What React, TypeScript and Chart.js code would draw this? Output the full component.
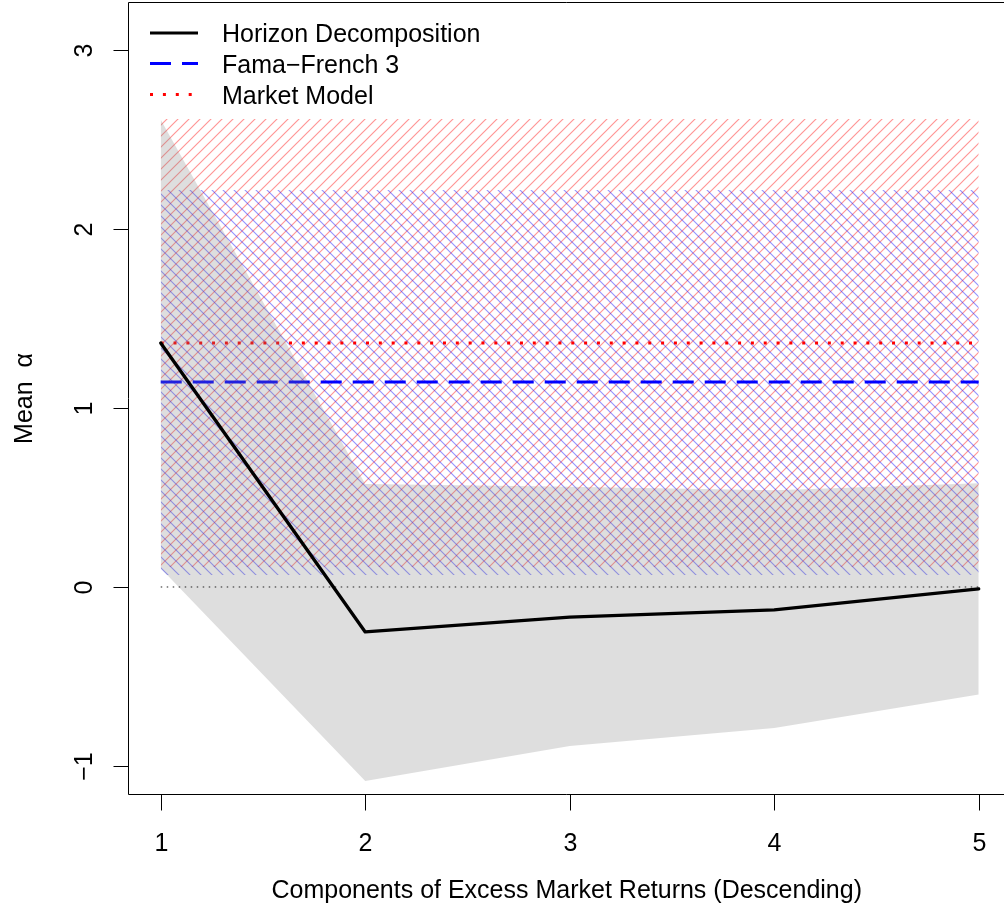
import React, { useEffect, useRef } from "react";
import { Chart, registerables } from "chart.js";

Chart.register(...registerables);

// ---------- data ----------
const components = [1, 2, 3, 4, 5];
const horizonAlpha = [1.363, -0.251, -0.168, -0.128, -0.011];
const horizonUpper = [2.61, 0.575, 0.56, 0.54, 0.58];
const horizonLower = [0.105, -1.084, -0.888, -0.788, -0.6];
const ff3Alpha = 1.145;
const ff3Band = [0.067, 2.218];
const mmAlpha = 1.363;
const mmBand = [0.112, 2.615];
const zeroRef = 0;

const xTicks = [1, 2, 3, 4, 5];
const xTickLabels = ["1", "2", "3", "4", "5"];
const yTicks = [-1, 0, 1, 2, 3];
const yTickLabels = ["\u22121", "0", "1", "2", "3"];
const legendLabels = ["Horizon Decomposition", "Fama\u2212French 3", "Market Model"];
const xTitle = "Components of Excess Market Returns (Descending)";
const yTitle = "Mean  \u03b1";

const X_MIN = 0.84;
const X_MAX = 5.1236;
const Y_MIN = -1.162;
const Y_MAX = 3.268;

const FONT = '25px "Liberation Sans", Arial, Helvetica, sans-serif';

function makeHatch(color: string, dir: "/" | "\\"): CanvasPattern | string {
  const s = 11;
  const c = document.createElement("canvas");
  c.width = s;
  c.height = s;
  const g = c.getContext("2d");
  if (!g) return color;
  g.strokeStyle = color;
  g.lineWidth = 1.15;
  g.beginPath();
  if (dir === "/") {
    for (let k = 0; k <= 2; k++) {
      g.moveTo(-1, k * s + 1);
      g.lineTo(s + 1, k * s - s - 1);
    }
  } else {
    for (let k = -1; k <= 1; k++) {
      g.moveTo(-1, k * s - 1);
      g.lineTo(s + 1, k * s + s + 1);
    }
  }
  g.stroke();
  const p = g.createPattern(c, "repeat");
  return p || color;
}

const flat = (v: number) => [
  { x: components[0], y: v },
  { x: components[components.length - 1], y: v },
];

const axesPlugin = {
  id: "rAxes",
  afterDraw(chart: any) {
    const ctx = chart.ctx as CanvasRenderingContext2D;
    const xs = chart.scales.x;
    const ys = chart.scales.y;
    const area = chart.chartArea;
    ctx.save();
    ctx.strokeStyle = "#000";
    ctx.lineWidth = 1;
    ctx.setLineDash([]);
    // box (right side falls outside the canvas)
    const L = Math.round(area.left) + 0.5;
    const T = Math.round(area.top) + 0.5;
    const B = Math.round(area.bottom) - 0.5;
    const R = xs.getPixelForValue(5.16);
    ctx.beginPath();
    ctx.moveTo(R, T);
    ctx.lineTo(L, T);
    ctx.lineTo(L, B);
    ctx.lineTo(R, B);
    ctx.stroke();

    ctx.fillStyle = "#000";
    ctx.font = FONT;
    // x ticks
    ctx.textAlign = "center";
    ctx.textBaseline = "alphabetic";
    xTicks.forEach((t, i) => {
      const px = Math.round(xs.getPixelForValue(t)) + 0.5;
      ctx.beginPath();
      ctx.moveTo(px, B);
      ctx.lineTo(px, B + 16);
      ctx.stroke();
      ctx.fillText(xTickLabels[i], px, B + 56);
    });
    // y ticks
    yTicks.forEach((t, i) => {
      const py = Math.round(ys.getPixelForValue(t)) + 0.5;
      ctx.beginPath();
      ctx.moveTo(L, py);
      ctx.lineTo(L - 15, py);
      ctx.stroke();
      ctx.save();
      ctx.translate(L - 37, py);
      ctx.rotate(-Math.PI / 2);
      ctx.fillText(yTickLabels[i], 0, 0);
      ctx.restore();
    });
    // titles
    ctx.fillText(xTitle, xs.getPixelForValue(3) - 3, B + 103);
    ctx.save();
    ctx.translate(32, (area.top + area.bottom) / 2);
    ctx.rotate(-Math.PI / 2);
    ctx.fillText(yTitle, 0, 0);
    ctx.restore();

    // legend
    const lx1 = area.left + 22;
    const lx2 = area.left + 70;
    const tx = area.left + 94;
    const rows = [area.top + 31, area.top + 61.5, area.top + 92.5];
    const styles = [
      { color: "#000", width: 3.2, dash: [] as number[] },
      { color: "#0000ff", width: 3, dash: [21, 11] },
      { color: "#ff0000", width: 3, dash: [3, 9.9] },
    ];
    ctx.textAlign = "left";
    legendLabels.forEach((lab, i) => {
      const st = styles[i];
      ctx.save();
      ctx.strokeStyle = st.color;
      ctx.lineWidth = st.width;
      ctx.setLineDash(st.dash);
      ctx.lineCap = "butt";
      ctx.beginPath();
      ctx.moveTo(lx1, rows[i]);
      ctx.lineTo(lx2, rows[i]);
      ctx.stroke();
      ctx.restore();
      ctx.fillText(lab, tx, rows[i] + 9);
    });
    ctx.restore();
  },
};

export default function App() {
  const ref = useRef<HTMLCanvasElement>(null);
  useEffect(() => {
    document.body.style.margin = "0";
    const canvas = ref.current;
    if (!canvas) return;
    const redHatch = makeHatch("rgba(255,0,0,0.42)", "/");
    const blueHatch = makeHatch("rgba(0,0,255,0.42)", "\\");
    const grayFill = "rgba(128,128,128,0.26)";
    const none = "rgba(0,0,0,0)";
    const base = { pointRadius: 0, pointHoverRadius: 0, tension: 0 };

    const chart = new Chart(canvas, {
      type: "line",
      data: {
        datasets: [
          // 0,1 market model band (red hatch)
          { ...base, label: "mmLow", data: flat(mmBand[0]), borderWidth: 0, borderColor: none, fill: false, order: 10 },
          { ...base, label: "mmHigh", data: flat(mmBand[1]), borderWidth: 0, borderColor: none, backgroundColor: redHatch as any, fill: "-1", order: 9 },
          // 2,3 FF3 band (blue hatch)
          { ...base, label: "ffLow", data: flat(ff3Band[0]), borderWidth: 0, borderColor: none, fill: false, order: 8 },
          { ...base, label: "ffHigh", data: flat(ff3Band[1]), borderWidth: 0, borderColor: none, backgroundColor: blueHatch as any, fill: "-1", order: 7 },
          // 4 market model alpha
          { ...base, label: legendLabels[2], data: flat(mmAlpha), borderColor: "#ff0000", borderWidth: 3, borderDash: [3, 9.83], borderCapStyle: "butt", fill: false, order: 6 },
          // 5 FF3 alpha
          { ...base, label: legendLabels[1], data: flat(ff3Alpha), borderColor: "#0000ff", borderWidth: 3, borderDash: [21, 11], borderCapStyle: "butt", fill: false, order: 5 },
          // 6,7 horizon band (gray)
          { ...base, label: "hLow", data: components.map((c, i) => ({ x: c, y: horizonLower[i] })), borderWidth: 0, borderColor: none, fill: false, order: 4 },
          { ...base, label: "hHigh", data: components.map((c, i) => ({ x: c, y: horizonUpper[i] })), borderWidth: 0, borderColor: none, backgroundColor: grayFill, fill: "-1", order: 3 },
          // 8 zero reference
          { ...base, label: "zero", data: flat(zeroRef), borderColor: "#222222", borderWidth: 1, borderDash: [1.5, 4.5], borderCapStyle: "butt", fill: false, order: 2 },
          // 9 horizon decomposition
          { ...base, label: legendLabels[0], data: components.map((c, i) => ({ x: c, y: horizonAlpha[i] })), borderColor: "#000000", borderWidth: 3.3, borderJoinStyle: "round", borderCapStyle: "round", fill: false, order: 1 },
        ] as any,
      },
      options: {
        animation: false,
        responsive: false,
        devicePixelRatio: 1,
        events: [],
        layout: { padding: { left: 128, top: 2, right: 0, bottom: 126 } },
        scales: {
          x: { type: "linear", min: X_MIN, max: X_MAX, display: false },
          y: { type: "linear", min: Y_MIN, max: Y_MAX, display: false },
        },
        plugins: {
          legend: { display: false },
          tooltip: { enabled: false },
          filler: { propagate: false },
        },
      } as any,
      plugins: [axesPlugin],
    });
    return () => chart.destroy();
  }, []);

  return (
    <canvas
      ref={ref}
      width={1004}
      height={921}
      style={{ display: "block", width: 1004, height: 921 }}
    />
  );
}
